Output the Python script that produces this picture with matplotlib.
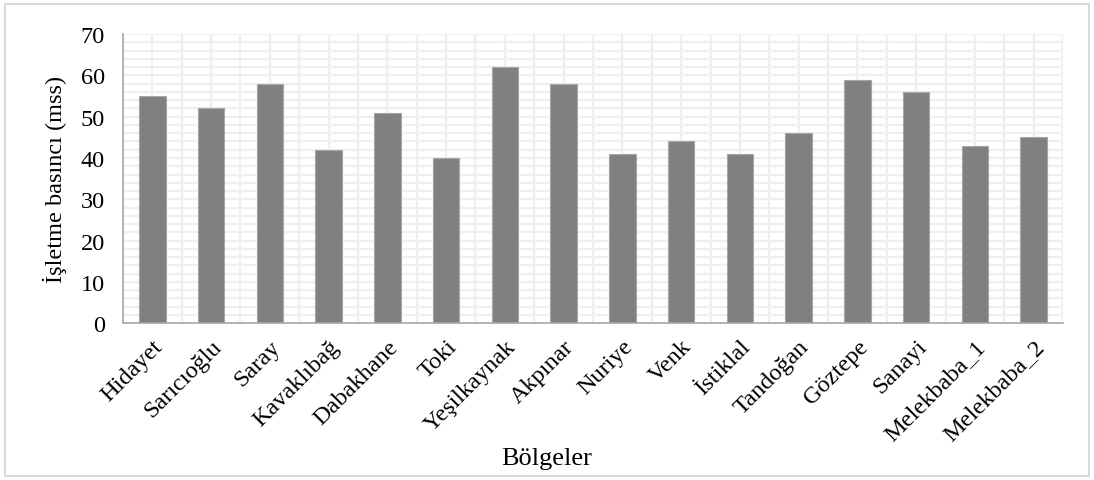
import matplotlib.pyplot as plt
import numpy as np
from matplotlib.patches import Rectangle

# regions and operating pressure values
bolgeler = ['Hidayet', 'Sarıcıoğlu', 'Saray', 'Kavaklıbağ', 'Dabakhane', 'Toki',
            'Yeşilkaynak', 'Akpınar', 'Nuriye', 'Venk', 'İstiklal', 'Tandoğan',
            'Göztepe', 'Sanayi', 'Melekbaba_1', 'Melekbaba_2']
basinc = [55, 52, 58, 42, 51, 40, 62, 58, 41, 44, 41, 46, 59, 56, 43, 45]


def main():
    plt.rcParams['font.family'] = ['Liberation Serif', 'DejaVu Serif']

    fig = plt.figure(figsize=(10.94, 4.81), dpi=100)
    ax = fig.add_axes([0.1124, 0.326, 0.8593, 0.601])

    x = np.arange(len(bolgeler))
    ax.bar(x, basinc, 0.45, color='#808080', edgecolor='#a6a6a6', linewidth=0.8, zorder=3)

    # light grid: every 2 units on y, every half category on x
    for yv in np.arange(2, 71, 2):
        ax.axhline(yv, color='#efefef', linewidth=1.6, zorder=1)
    for xv in np.arange(-0.5, len(bolgeler), 0.5):
        ax.axvline(xv, color='#efefef', linewidth=1.6, zorder=1)

    ax.set_xlim(-0.5, len(bolgeler) - 0.5)
    ax.set_ylim(0, 70)
    ax.set_yticks(range(0, 71, 10))
    ax.set_xticks(x)
    ax.set_xticklabels(bolgeler, rotation=45, ha='right', rotation_mode='anchor')
    ax.tick_params(axis='both', length=0, labelsize=17.5, colors='black')
    ax.tick_params(axis='x', pad=9)
    ax.tick_params(axis='y', pad=13)

    for side in ['top', 'right']:
        ax.spines[side].set_visible(False)
    for side in ['left', 'bottom']:
        ax.spines[side].set_color('#a6a6a6')
        ax.spines[side].set_linewidth(1.2)
        ax.spines[side].set_zorder(4)

    ax.set_ylabel('İşletme basıncı (mss)', fontsize=17.5, labelpad=10)
    fig.text(0.5, 0.045, 'Bölgeler', fontsize=19, ha='center', va='center')

    # outer frame
    fig.patches.append(Rectangle((0.005, 0.008), 0.99, 0.982, transform=fig.transFigure,
                                 fill=False, edgecolor='#d9d9d9', linewidth=1.5))

    fig.savefig('out.png', dpi=100)


if __name__ == '__main__':
    main()
